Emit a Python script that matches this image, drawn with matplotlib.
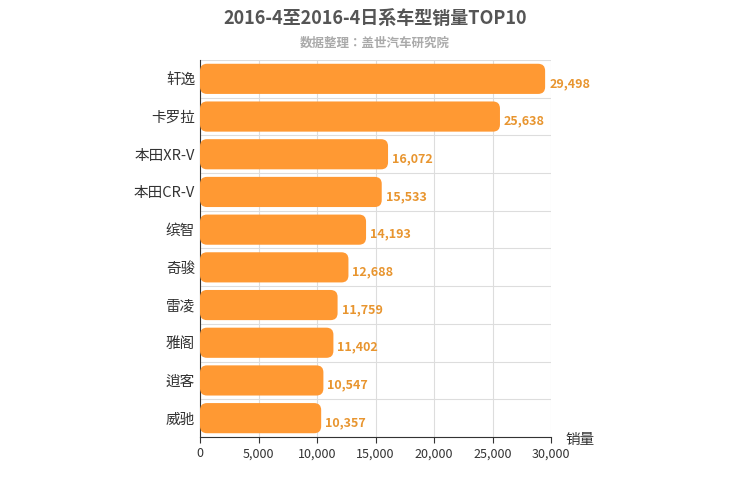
import matplotlib
matplotlib.use("Agg")
import matplotlib.pyplot as plt
from matplotlib import font_manager
from matplotlib.patches import FancyBboxPatch

# pick whatever CJK family name matplotlib registered
cjk = [f.name for f in font_manager.fontManager.ttflist if "CJK" in f.name]
cjk_name = "Noto Sans CJK SC" if "Noto Sans CJK SC" in cjk else (cjk[0] if cjk else "DejaVu Sans")
plt.rcParams["font.family"] = [cjk_name, "DejaVu Sans"]

models = ["轩逸", "卡罗拉", "本田XR-V", "本田CR-V", "缤智", "奇骏", "雷凌", "雅阁", "逍客", "威驰"]
sales = [29498, 25638, 16072, 15533, 14193, 12688, 11759, 11402, 10547, 10357]
xticks = [0, 5000, 10000, 15000, 20000, 25000, 30000]

fig = plt.figure(figsize=(7.5, 5), dpi=100)
ax = fig.add_axes([200/750, 1-437/500, 351/750, 377/500])
ax.set_xlim(0, 30000)
ax.set_ylim(len(models) - 0.5, -0.5)

# data units per pixel, for rounded corners
xpp = 30000 / 351
ypp = 10 / 377
h = 0.8
for i, (m, v) in enumerate(zip(models, sales)):
    box = FancyBboxPatch((0, i - h/2), v, h,
                         boxstyle="round,pad=0,rounding_size=%f" % (7 * xpp),
                         mutation_aspect=ypp / xpp,
                         fc="#ff9933", ec="none", zorder=3)
    ax.add_patch(box)
    ax.text(v + 4 * xpp, i + 0.12, f"{v:,}", va="center", ha="left",
            color="#e8952f", fontsize=9, fontweight="bold", zorder=4)

ax.set_yticks(range(len(models)))
ax.set_yticklabels(models, fontsize=10.5, color="#333333")
ax.set_xticks(xticks)
ax.set_xticklabels([f"{t:,}" for t in xticks], fontsize=9, color="#333333")
ax.grid(axis="x", color="#dddddd", zorder=0)
ax.set_yticks([i + 0.5 for i in range(-1, len(models))], minor=True)
ax.grid(axis="y", which="minor", color="#dddddd", zorder=0)
ax.tick_params(axis="y", which="both", length=0)
ax.tick_params(axis="x", length=4, color="#333333")
for s in ["top", "right"]:
    ax.spines[s].set_visible(False)
ax.spines["left"].set_color("#333333")
ax.spines["bottom"].set_color("#333333")

fig.text(375/750, 1-18/500, "2016-4至2016-4日系车型销量TOP10", ha="center", va="center",
         fontsize=13, fontweight="bold", color="#555555")
fig.text(375/750, 1-43/500, "数据整理：盖世汽车研究院", ha="center", va="center",
         fontsize=9, fontweight="bold", color="#aaaaaa")
fig.text(565/750, 1-440/500, "销量", ha="left", va="center", fontsize=10.5, color="#333333")

fig.savefig("out.png", dpi=100)
